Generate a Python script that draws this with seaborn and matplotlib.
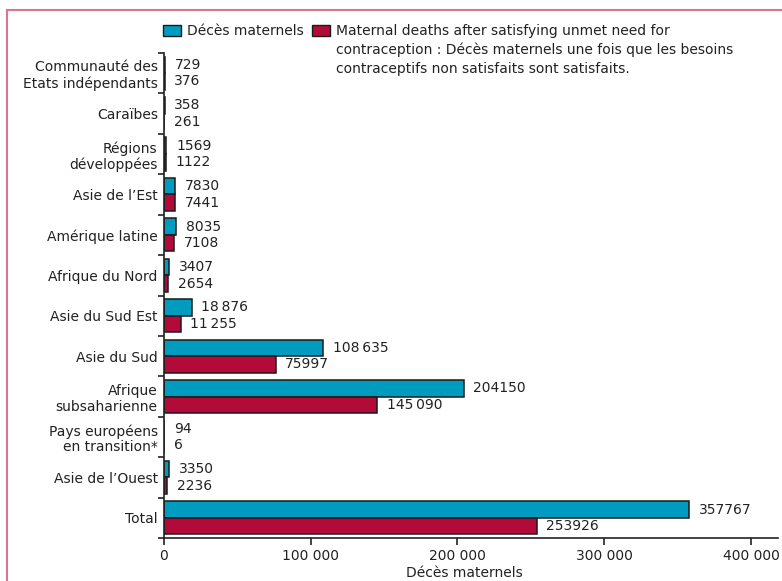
import seaborn as sns
import matplotlib.pyplot as plt
from matplotlib.patches import Rectangle
import numpy as np
import pandas as pd

# data, top to bottom
regions = ["Communauté des\nEtats indépendants", "Caraïbes", "Régions\ndéveloppées",
           "Asie de l\u2019Est", "Amérique latine", "Afrique du Nord", "Asie du Sud Est",
           "Asie du Sud", "Afrique\nsubsaharienne", "Pays européens\nen transition*",
           "Asie de l\u2019Ouest", "Total"]
deces = [729, 358, 1569, 7830, 8035, 3407, 18876, 108635, 204150, 94, 3350, 357767]
apres = [376, 261, 1122, 7441, 7108, 2654, 11255, 75997, 145090, 6, 2236, 253926]
deces_labels = ["729", "358", "1569", "7830", "8035", "3407", "18\u2009876", "108\u2009635",
                "204150", "94", "3350", "357767"]
apres_labels = ["376", "261", "1122", "7441", "7108", "2654", "11\u2009255", "75997",
                "145\u2009090", "6", "2236", "253926"]
series = ["Décès maternels", "Après contraception"]
xticks = [0, 100000, 200000, 300000, 400000]
xtick_labels = ["0", "100 000", "200 000", "300 000", "400 000"]

blue = "#009CBF"
red = "#B20B3A"
txt = "#222222"

df = pd.DataFrame({
    "region": regions * 2,
    "value": deces + apres,
    "series": [series[0]] * len(regions) + [series[1]] * len(regions),
})

sns.set_style("ticks")
plt.rcParams["font.family"] = ["DejaVu Sans"]
plt.rcParams["font.size"] = 10
plt.rcParams["text.color"] = txt

fig = plt.figure(figsize=(7.82, 5.81), dpi=100)
ax = fig.add_axes([164 / 782, 43 / 581, 614 / 782, 485 / 581])

sns.barplot(data=df, y="region", x="value", hue="series", order=regions, hue_order=series,
            orient="h", palette=[blue, red], saturation=1, width=0.82, edgecolor="#1a1a1a",
            linewidth=1.1, errorbar=None, legend=False, ax=ax)

for cont, labs in zip(ax.containers, [deces_labels, apres_labels]):
    ax.bar_label(cont, labels=labs, padding=7, fontsize=10, color=txt)

ax.set_xlim(0, 418400)
ax.set_ylim(len(regions) - 0.5, -0.5)
ax.set_xticks(xticks)
ax.set_xticklabels(xtick_labels, fontsize=10, color=txt)
ax.set_yticks(range(len(regions)))
ax.set_yticklabels(regions, fontsize=10, color=txt, linespacing=1.15)
ax.set_yticks(np.arange(-0.5, len(regions), 1), minor=True)
ax.tick_params(axis="y", which="major", length=0, pad=4.5)
ax.tick_params(axis="y", which="minor", length=4, width=1.2, color=txt)
ax.tick_params(axis="x", which="major", length=5, width=1.2, color=txt, pad=3)
ax.set_ylabel("")
ax.set_xlabel("Décès maternels", fontsize=10, color=txt)
ax.xaxis.set_label_coords(0.49, -0.058)

sns.despine(ax=ax)
for s in ["left", "bottom"]:
    ax.spines[s].set_linewidth(1.2)
    ax.spines[s].set_color(txt)

# legend drawn by hand (second label wraps over three lines)
W, H = 782, 581
fig.add_artist(Rectangle((163 / W, 1 - 36 / H), 18 / W, 11 / H, transform=fig.transFigure,
                         facecolor=blue, edgecolor="#1a1a1a", lw=1))
fig.text(187 / W, 1 - 31 / H, "Décès maternels", va="center", ha="left", fontsize=10)
fig.add_artist(Rectangle((312 / W, 1 - 36 / H), 18 / W, 11 / H, transform=fig.transFigure,
                         facecolor=red, edgecolor="#1a1a1a", lw=1))
fig.text(336 / W, 1 - 24 / H,
         "Maternal deaths after satisfying unmet need for\n"
         "contraception : Décès maternels une fois que les besoins\n"
         "contraceptifs non satisfaits sont satisfaits.",
         va="top", ha="left", fontsize=10, linespacing=1.4)

# pink frame
fig.add_artist(Rectangle((7 / W, -0.1), 1.2, 1.1 - 10 / H, transform=fig.transFigure,
                         fill=False, edgecolor="#D8758F", lw=1.5))

fig.savefig("out.png", dpi=100)
